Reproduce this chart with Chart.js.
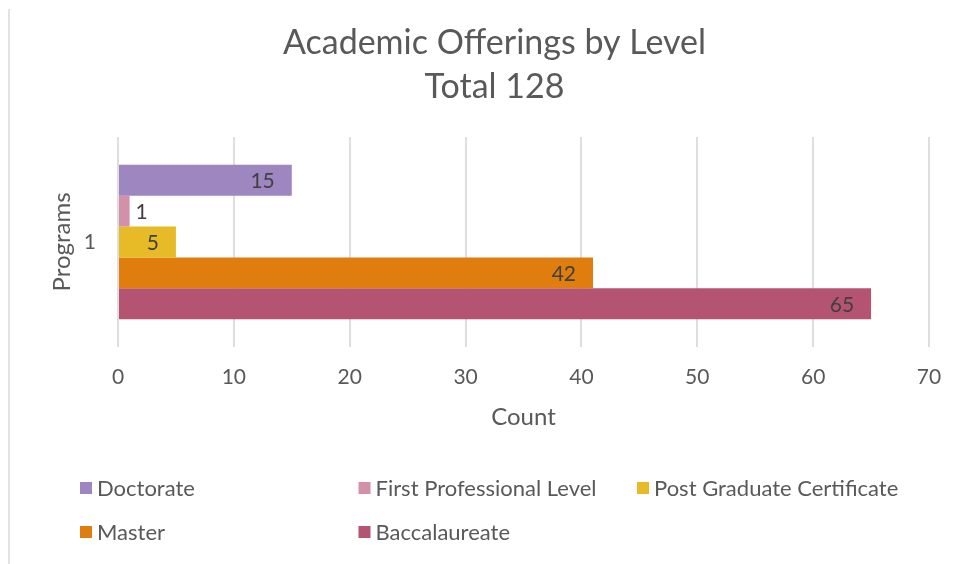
<!DOCTYPE html>
<html>
<head>
<meta charset="utf-8">
<script src="https://cdn.jsdelivr.net/npm/chart.js@4"></script>
<style>
  html, body { margin: 0; padding: 0; background: #fff; }
  #wrap { position: relative; width: 955px; height: 564px; }
  #edge { position: absolute; left: 8px; top: 9px; width: 2px; height: 555px; background: #e3e3e3; }
  canvas { position: absolute; left: 0; top: 0; }
</style>
</head>
<body>
<div id="wrap">
  <div id="edge"></div>
  <canvas id="offeringsChart" width="955" height="564"></canvas>
</div>
<script>
// datos
const categories = ['1'];
const levels = ['Doctorate', 'First Professional Level', 'Post Graduate Certificate', 'Master', 'Baccalaureate'];
const counts = [15, 1, 5, 41, 65];          // longitud de las barras
const countLabels = ['15', '1', '5', '42', '65']; // etiquetas mostradas
const levelColors = ['#9e86c0', '#d291a8', '#e6bb27', '#df7d0e', '#b45472'];
const xTicks = [0, 10, 20, 30, 40, 50, 60, 70];
const titleLines = ['Academic Offerings by Level', 'Total 128'];

const fontFamily = 'Lato, "Open Sans", sans-serif';
const grey = '#595959';

// etiquetas de datos al final de cada barra
const barLabels = {
    id: 'barLabels',
    afterDatasetsDraw(chart) {
        const ctx = chart.ctx;
        ctx.save();
        ctx.font = '21px ' + fontFamily;
        ctx.fillStyle = '#404040';
        ctx.textBaseline = 'middle';
        chart.data.datasets.forEach(function (ds, i) {
            const meta = chart.getDatasetMeta(i);
            meta.data.forEach(function (bar) {
                const text = countLabels[i];
                const w = ctx.measureText(text).width;
                if (bar.x - bar.base > w + 30) {
                    ctx.textAlign = 'right';
                    ctx.fillText(text, bar.x - 17, bar.y + 1);
                } else {
                    ctx.textAlign = 'left';
                    ctx.fillText(text, bar.x + 6, bar.y + 1);
                }
            });
        });
        ctx.restore();
    }
};

// leyenda en cuadrícula de tres columnas, como en Excel
const gridLegend = {
    id: 'gridLegend',
    afterDraw(chart) {
        const ctx = chart.ctx;
        ctx.save();
        ctx.font = '22px ' + fontFamily;
        ctx.textBaseline = 'middle';
        ctx.textAlign = 'left';
        chart.data.datasets.forEach(function (ds, i) {
            const col = i % 3;
            const row = Math.floor(i / 3);
            const x = 80 + col * 278.5;
            const y = 488 + row * 44;
            ctx.fillStyle = ds.backgroundColor;
            ctx.fillRect(x, y - 6, 12, 12);
            ctx.fillStyle = grey;
            ctx.fillText(ds.label, x + 17, y + 1);
        });
        ctx.restore();
    }
};

const ctx = document.getElementById('offeringsChart').getContext('2d');
new Chart(ctx, {
    type: 'bar',
    data: {
        labels: categories,
        datasets: levels.map(function (name, i) {
            return {
                label: name,
                data: [counts[i]],
                backgroundColor: levelColors[i],
                borderWidth: 0,
                barPercentage: 1,
                categoryPercentage: 0.735
            };
        })
    },
    options: {
        indexAxis: 'y',
        responsive: false,
        animation: false,
        layout: { padding: { top: 21, right: 26, bottom: 134, left: 60 } },
        plugins: {
            legend: { display: false },
            tooltip: { enabled: false },
            title: {
                display: true,
                text: titleLines,
                color: grey,
                font: { family: fontFamily, size: 34, weight: 'normal', lineHeight: 1.294 },
                padding: { top: 0, bottom: 28 }
            }
        },
        scales: {
            x: {
                min: 0,
                max: 70,
                afterBuildTicks(scale) {
                    scale.ticks = xTicks.map(function (v) { return { value: v }; });
                },
                grid: { color: '#dedede', lineWidth: 2, drawTicks: false },
                border: { display: false },
                ticks: { color: grey, padding: 18, font: { family: fontFamily, size: 21 } },
                title: {
                    display: true,
                    text: 'Count',
                    color: grey,
                    font: { family: fontFamily, size: 24 },
                    padding: { top: 9, bottom: -2 }
                },
                afterFit(scale) {
                    scale.height = 83;
                    scale.paddingLeft = 0;
                    scale.paddingRight = 0;
                }
            },
            y: {
                grid: { display: false, drawTicks: false },
                border: { display: false },
                ticks: { color: grey, padding: 22, font: { family: fontFamily, size: 21 } },
                title: {
                    display: true,
                    text: 'Programs',
                    color: grey,
                    font: { family: fontFamily, size: 24 },
                    padding: { top: -12, bottom: 0 }
                },
                afterFit(scale) {
                    scale.width = 58;
                    scale.paddingTop = 0;
                    scale.paddingBottom = 0;
                }
            }
        }
    },
    plugins: [barLabels, gridLegend]
});
</script>
</body>
</html>
